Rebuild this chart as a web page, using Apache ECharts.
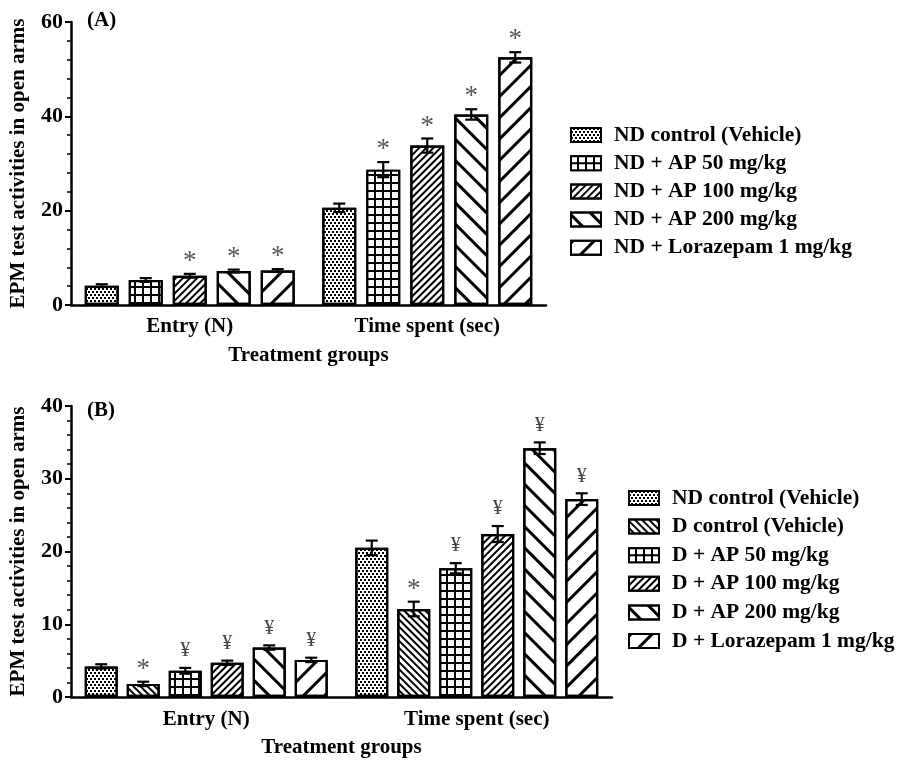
<!DOCTYPE html>
<html>
<head>
<meta charset="utf-8">
<script src="https://cdn.jsdelivr.net/npm/echarts@6/dist/echarts.min.js"></script>
<style>html,body{margin:0;padding:0;background:#fff;}#c{width:900px;height:765px;}</style>
</head>
<body>
<div id="c"></div>
<script>
const categories = ['Entry (N)', 'Time spent (sec)'];
const yTicksA = [0, 20, 40, 60];
const yTicksB = [0, 10, 20, 30, 40];

const namesA = ['ND control (Vehicle)', 'ND + AP 50 mg/kg', 'ND + AP 100 mg/kg', 'ND + AP 200 mg/kg', 'ND + Lorazepam 1 mg/kg'];
const entryA = [4.1, 5.3, 6.2, 7.2, 7.3];
const timeA = [20.6, 28.7, 33.8, 40.4, 52.5];
const entryErrA = [0.3, 0.4, 0.4, 0.3, 0.3];
const timeErrA = [0.9, 1.6, 1.5, 1.1, 1.1];
const entrySigA = ['', '', '*', '*', '*'];
const timeSigA = ['', '*', '*', '*', '*'];

const namesB = ['ND control (Vehicle)', 'D control (Vehicle)', 'D + AP 50 mg/kg', 'D + AP 100 mg/kg', 'D + AP 200 mg/kg', 'D + Lorazepam 1 mg/kg'];
const entryB = [4.2, 1.8, 3.6, 4.7, 6.8, 5.1];
const timeB = [20.5, 12.1, 17.7, 22.4, 34.2, 27.2];
const entryErrB = [0.3, 0.3, 0.4, 0.3, 0.3, 0.3];
const timeErrB = [1.0, 1.0, 0.7, 1.1, 0.8, 0.8];
const entrySigB = ['', '*', '¥', '¥', '¥', '¥'];
const timeSigB = ['', '*', '¥', '¥', '¥', '¥'];

const FONT = "'Liberation Serif', 'Times New Roman', serif";

const decals = {
  dots: { symbol: 'rect', color: '#000', symbolSize: 1, dashArrayX: [[2, 1.5], [0, 1.75, 2, 0]], dashArrayY: [1.8, 0.6] },
  grid: { symbol: 'rect', color: '#fff', backgroundColor: '#000', symbolSize: 1, dashArrayX: [5.2, 1.6], dashArrayY: [5.2, 1.6] },
  fineFwd: { symbol: 'rect', color: '#000', symbolSize: 1, dashArrayX: [1, 0], dashArrayY: [1.7, 2.1], rotation: -Math.PI / 4 },
  fineBack: { symbol: 'rect', color: '#000', symbolSize: 1, dashArrayX: [1, 0], dashArrayY: [1.4, 2.4], rotation: Math.PI / 4 },
  wideBack: { symbol: 'rect', color: '#000', symbolSize: 1, dashArrayX: [1, 0], dashArrayY: [2.8, 11.2], rotation: Math.PI / 4 },
  wideFwd: { symbol: 'rect', color: '#000', symbolSize: 1, dashArrayX: [1, 0], dashArrayY: [2.8, 11.2], rotation: -Math.PI / 4 }
};
const patternsA = ['dots', 'grid', 'fineFwd', 'wideBack', 'wideFwd'];
const patternsB = ['dots', 'fineBack', 'grid', 'fineFwd', 'wideBack', 'wideFwd'];

const BW_A = 34, GAP_A = 10;
const BW_B = 33, GAP_B = 9;

function errSeries(axisIdx, i, n, bw, gap, means, errs, sigs) {
  const offset = (i - (n - 1) / 2) * (bw + gap);
  return {
    type: 'custom',
    xAxisIndex: axisIdx, yAxisIndex: axisIdx,
    z: 5,
    silent: true,
    data: means.map((m, k) => [k, m, errs[k]]),
    encode: { x: 0, y: 1 },
    renderItem: function (params, api) {
      const k = api.value(0), m = api.value(1), e = api.value(2);
      const x = api.coord([k, m])[0] + offset;
      const yT = api.coord([k, m + e])[1];
      const yB = api.coord([k, m - e])[1];
      const cw = 6;
      const st = { stroke: '#000', lineWidth: 2.2 };
      const children = [
        { type: 'line', shape: { x1: x, y1: yT, x2: x, y2: yB }, style: st },
        { type: 'line', shape: { x1: x - cw, y1: yT, x2: x + cw, y2: yT }, style: st },
        { type: 'line', shape: { x1: x - cw, y1: yB, x2: x + cw, y2: yB }, style: st }
      ];
      const s = sigs[params.dataIndex];
      if (s) {
        const star = s === '*';
        children.push({
          type: 'text',
          style: {
            x: x, y: yT - (star ? 12 : 17),
            text: s, align: 'center', verticalAlign: 'middle',
            fill: star ? '#555' : '#444',
            font: (star ? '27px ' : '20px ') + FONT
          }
        });
      }
      return { type: 'group', children: children };
    }
  };
}

const series = [];
namesA.forEach((name, i) => {
  series.push({
    name: name, type: 'bar', xAxisIndex: 0, yAxisIndex: 0,
    barWidth: BW_A, barGap: (GAP_A / BW_A * 100) + '%',
    data: [entryA[i], timeA[i]],
    itemStyle: { color: '#fff', borderColor: '#000', borderWidth: 2.2, decal: decals[patternsA[i]] }
  });
});
namesA.forEach((name, i) => {
  series.push(errSeries(0, i, namesA.length, BW_A, GAP_A, [entryA[i], timeA[i]], [entryErrA[i], timeErrA[i]], [entrySigA[i], timeSigA[i]]));
});
namesB.forEach((name, i) => {
  series.push({
    name: name, type: 'bar', xAxisIndex: 1, yAxisIndex: 1,
    barWidth: BW_B, barGap: (GAP_B / BW_B * 100) + '%',
    data: [entryB[i], timeB[i]],
    itemStyle: { color: '#fff', borderColor: '#000', borderWidth: 2.2, decal: decals[patternsB[i]] }
  });
});
namesB.forEach((name, i) => {
  series.push(errSeries(1, i, namesB.length, BW_B, GAP_B, [entryB[i], timeB[i]], [entryErrB[i], timeErrB[i]], [entrySigB[i], timeSigB[i]]));
});

function xAxis(gridIndex, margin) {
  return {
    type: 'category', gridIndex: gridIndex, data: categories,
    name: 'Treatment groups', nameLocation: 'middle', nameGap: 40,
    nameTextStyle: { fontFamily: FONT, fontWeight: 'bold', fontSize: 21, color: '#000' },
    axisLine: { lineStyle: { color: '#000', width: 2.5 } },
    axisTick: { alignWithLabel: true, length: 6, lineStyle: { color: '#000', width: 2 } },
    axisLabel: { fontFamily: FONT, fontWeight: 'bold', fontSize: 21, color: '#000', margin: margin },
    splitLine: { show: false }
  };
}
function yAxis(gridIndex, ticks) {
  return {
    type: 'value', gridIndex: gridIndex,
    min: ticks[0], max: ticks[ticks.length - 1], interval: ticks[1] - ticks[0],
    name: 'EPM test activities in open arms', nameLocation: 'middle', nameGap: 42,
    nameTextStyle: { fontFamily: FONT, fontWeight: 'bold', fontSize: 21, color: '#000' },
    axisLine: { show: true, lineStyle: { color: '#000', width: 2.5 } },
    axisTick: { show: true, length: 6, lineStyle: { color: '#000', width: 2 } },
    minorTick: { show: true, splitNumber: 5, length: 4, lineStyle: { color: '#000', width: 1.5 } },
    axisLabel: { fontFamily: FONT, fontWeight: 'bold', fontSize: 22, color: '#000', margin: 8 },
    splitLine: { show: false }
  };
}

const legendText = { fontFamily: FONT, fontWeight: 'bold', fontSize: 21.5, color: '#000', lineHeight: 22, padding: [0, 0, 0, 8] };

const option = {
  animation: false,
  backgroundColor: '#fff',
  grid: [
    { left: 70, right: 354, top: 22, bottom: 460 },
    { left: 70, right: 288, top: 406, bottom: 68 }
  ],
  xAxis: [xAxis(0, 11), xAxis(1, 12)],
  yAxis: [yAxis(0, yTicksA), yAxis(1, yTicksB)],
  legend: [
    { data: namesA, orient: 'vertical', left: 570, top: 124, padding: 0, itemWidth: 30, itemHeight: 14, itemGap: 6.2, icon: 'rect', textStyle: legendText, selectedMode: false },
    { data: namesB, orient: 'vertical', left: 628, top: 487, padding: 0, itemWidth: 30, itemHeight: 14, itemGap: 6.6, icon: 'rect', textStyle: legendText, selectedMode: false }
  ],
  graphic: [
    { type: 'text', left: 87, top: 10, style: { text: '(A)', font: 'bold 21px ' + FONT, fill: '#000' } },
    { type: 'text', left: 87, top: 400, style: { text: '(B)', font: 'bold 21px ' + FONT, fill: '#000' } }
  ],
  series: series
};

const chart = echarts.init(document.getElementById('c'), null, { renderer: 'canvas' });
chart.setOption(option);
</script>
</body>
</html>
